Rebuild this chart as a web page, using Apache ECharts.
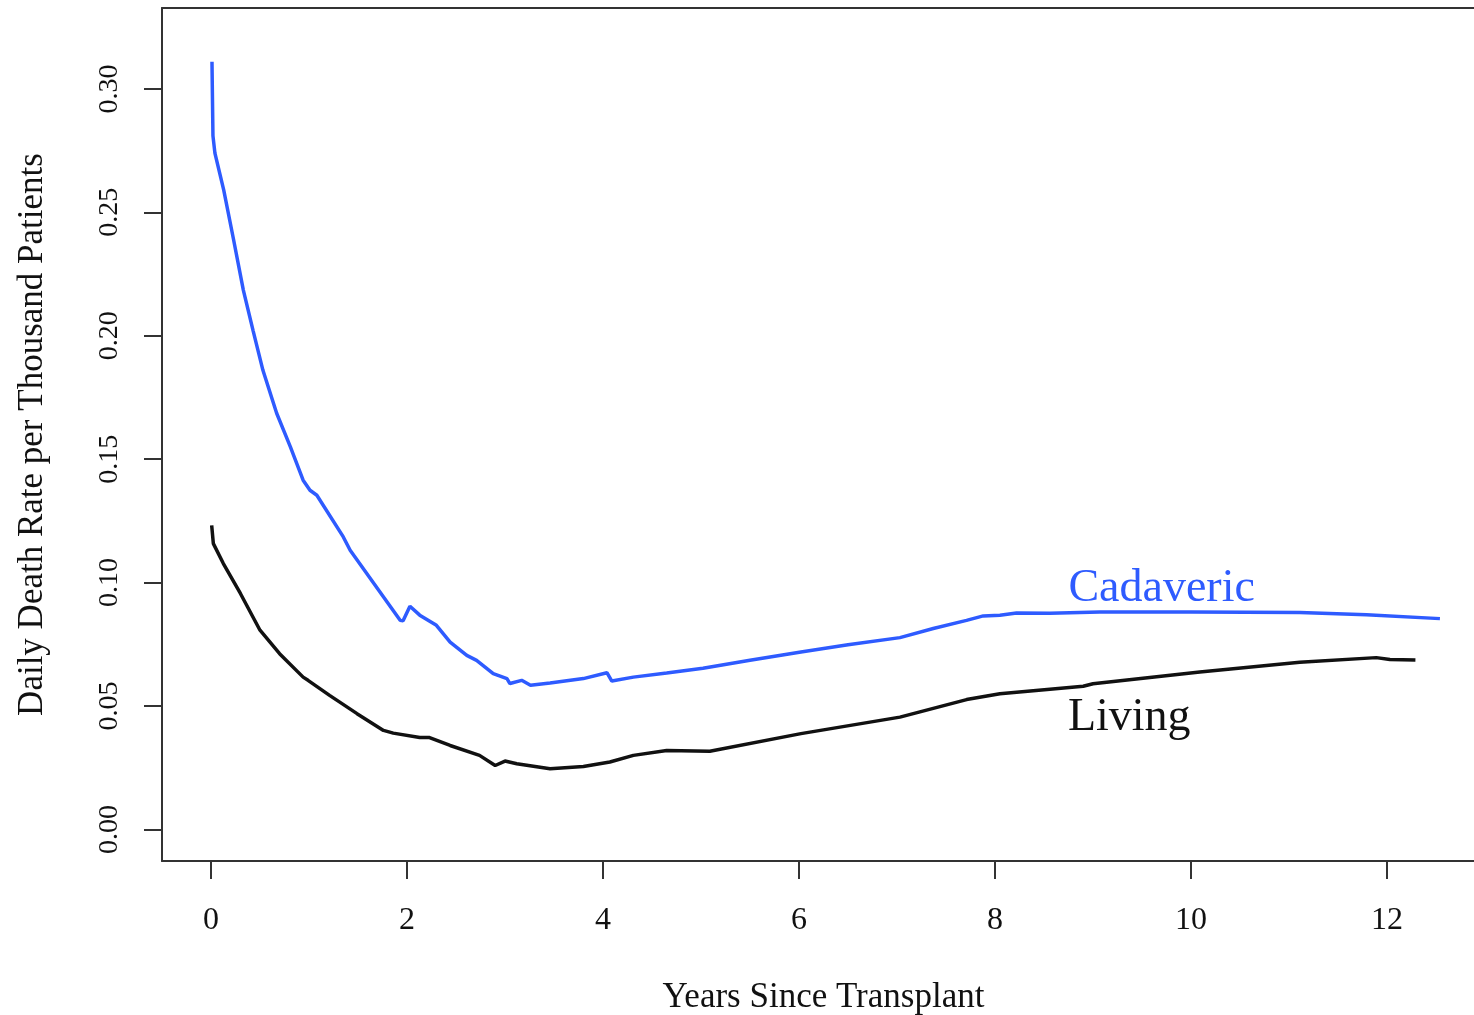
<!DOCTYPE html>
<html>
<head>
<meta charset="utf-8">
<script src="https://cdn.jsdelivr.net/npm/echarts@6/dist/echarts.min.js"></script>
<style>
html,body{margin:0;padding:0;background:#fff;}
#chart{width:1474px;height:1015px;}
</style>
</head>
<body>
<div id="chart"></div>
<script>
// Years since transplant and daily death rate per thousand patients
const cadavericYears = [0.01,0.02,0.04,0.13,0.23,0.33,0.43,0.53,0.67,0.81,0.94,1.01,1.08,1.35,1.42,1.93,1.96,2.03,2.13,2.30,2.44,2.61,2.71,2.88,3.02,3.05,3.17,3.26,3.46,3.80,4.04,4.09,4.31,4.65,5.02,5.5,6.02,6.5,7.03,7.37,7.71,7.88,8.05,8.22,8.56,9.07,10.0,11.11,11.79,12.54];
const cadavericRate  = [0.311,0.281,0.274,0.259,0.239,0.2185,0.202,0.186,0.1686,0.155,0.1415,0.1374,0.1354,0.1185,0.1131,0.0847,0.0845,0.0904,0.0868,0.0827,0.0759,0.0705,0.0685,0.0631,0.0611,0.0591,0.0604,0.0584,0.0593,0.0611,0.0635,0.0601,0.0617,0.0634,0.0653,0.0685,0.0719,0.0748,0.0777,0.0814,0.0847,0.0865,0.0868,0.0877,0.0876,0.0881,0.0881,0.0879,0.0870,0.0854];

const livingYears = [0.007,0.024,0.126,0.30,0.50,0.70,0.94,0.99,1.21,1.49,1.76,1.86,2.13,2.23,2.44,2.74,2.90,3.0,3.12,3.46,3.80,4.07,4.31,4.65,5.09,6.02,7.03,7.71,8.05,8.9,9.0,10.09,11.11,11.89,12.03,12.29];
const livingRate  = [0.1232,0.1158,0.1077,0.0956,0.0807,0.0712,0.0617,0.0604,0.0543,0.0469,0.0401,0.0390,0.0372,0.0372,0.0340,0.0300,0.0259,0.0277,0.0266,0.0246,0.0255,0.0273,0.0300,0.0320,0.0317,0.0388,0.0455,0.0526,0.0550,0.0580,0.0590,0.0638,0.0677,0.0696,0.0688,0.0686];

const xTicks = [0,2,4,6,8,10,12];
const yTicks = [0,0.05,0.10,0.15,0.20,0.25,0.30];

const seriesLabels = [
  {name:'Cadaveric', pos:[9.7,0.0973], color:'#2E5BFF'},
  {name:'Living', pos:[9.37,0.0450], color:'#111111'}
];

const xTitle = 'Years Since Transplant';
const yTitle = 'Daily Death Rate per Thousand Patients';

const FONT = "'Liberation Serif', 'DejaVu Serif', serif";
const AXIS_COLOR = '#333';

const zip = (a,b) => a.map((v,i)=>[v,b[i]]);

const chart = echarts.init(document.getElementById('chart'), null, {renderer:'canvas'});
chart.setOption({
  animation:false,
  backgroundColor:'#ffffff',
  grid:{left:162, top:8, bottom:154, right:-11, show:false, outerBoundsMode:'none', containLabel:false},
  xAxis:[{
    type:'value', min:-0.5, max:13.0, position:'bottom',
    splitLine:{show:false},
    axisLine:{show:true, onZero:false, lineStyle:{color:AXIS_COLOR, width:2}},
    axisTick:{show:true, inside:false, length:18, customValues:xTicks, lineStyle:{color:AXIS_COLOR, width:2}},
    axisLabel:{show:true, customValues:xTicks, margin:44, fontFamily:FONT, fontSize:32, color:'#111'},
    name:xTitle, nameLocation:'middle', nameGap:119,
    nameTextStyle:{fontFamily:FONT, fontSize:35, color:'#111'}
  },{
    type:'value', min:-0.5, max:13.0, position:'top',
    splitLine:{show:false},
    axisLine:{show:true, onZero:false, lineStyle:{color:AXIS_COLOR, width:2}},
    axisTick:{show:false}, axisLabel:{show:false}
  }],
  yAxis:{
    type:'value', min:-0.0128, max:0.3328,
    splitLine:{show:false},
    axisLine:{show:true, onZero:false, lineStyle:{color:AXIS_COLOR, width:2}},
    axisTick:{show:true, inside:false, length:18, customValues:yTicks, lineStyle:{color:AXIS_COLOR, width:2}},
    axisLabel:{show:true, customValues:yTicks, rotate:90, margin:38, fontFamily:FONT, fontSize:28, color:'#111',
      formatter:v=>v.toFixed(2)},
    name:yTitle, nameLocation:'middle', nameGap:112,
    nameTextStyle:{fontFamily:FONT, fontSize:35, color:'#111'}
  },
  series:[
    {type:'line', name:'Cadaveric', data:zip(cadavericYears,cadavericRate), showSymbol:false, smooth:false,
      lineStyle:{color:'#2E5BFF', width:3.5}},
    {type:'line', name:'Living', data:zip(livingYears,livingRate), showSymbol:false, smooth:false,
      lineStyle:{color:'#111111', width:3.5}},
    ...seriesLabels.map(l=>({
      type:'scatter', data:[l.pos], symbolSize:0, silent:true,
      itemStyle:{color:'transparent', opacity:1},
      label:{show:true, position:[0,0], align:'center', verticalAlign:'middle',
        formatter:l.name, fontFamily:FONT, fontSize:46, color:l.color, opacity:1}
    }))
  ]
});
</script>
</body>
</html>
